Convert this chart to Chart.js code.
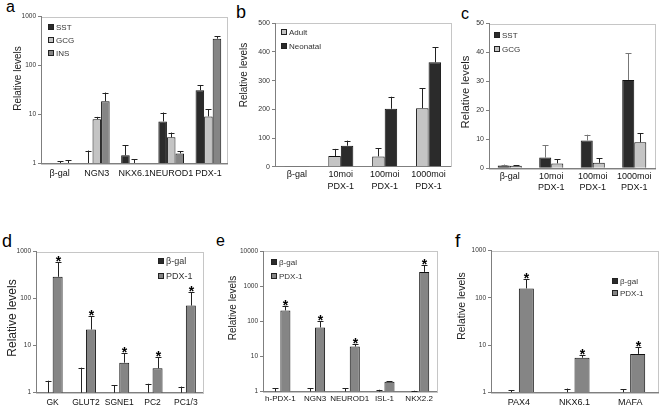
<!DOCTYPE html>
<html>
<head>
<meta charset="utf-8">
<script src="https://cdn.jsdelivr.net/npm/chart.js@4.4.1/dist/chart.umd.min.js"></script>
<style>
  body { margin: 0; background: #fff; width: 661px; height: 408px; position: relative; overflow: hidden; font-family: "Liberation Sans", Arial, sans-serif; }
  canvas { position: absolute; }
  .tag { position: absolute; line-height: 1; color: #000; }
</style>
</head>
<body>
<div class="tag" style="left:6px;top:-1px;font-size:16px">a</div>
<div class="tag" style="left:236px;top:3px;font-size:18px">b</div>
<div class="tag" style="left:461px;top:6px;font-size:16px">c</div>
<div class="tag" style="left:2px;top:232px;font-size:18px">d</div>
<div class="tag" style="left:216px;top:233px;font-size:16px">e</div>
<div class="tag" style="left:455px;top:231px;font-size:19px">f</div>

<canvas id="pa" width="233" height="190" style="left:0px;top:0px"></canvas>
<canvas id="pb" width="226" height="200" style="left:230px;top:0px"></canvas>
<canvas id="pc" width="205" height="200" style="left:456px;top:0px"></canvas>
<canvas id="pd" width="215" height="183" style="left:0px;top:225px"></canvas>
<canvas id="pe" width="228" height="183" style="left:215px;top:225px"></canvas>
<canvas id="pf" width="218" height="183" style="left:443px;top:225px"></canvas>

<script>
// panel a
const aCats = ["β-gal", "NGN3", "NKX6.1", "NEUROD1", "PDX-1"];
const aSST = [1, 1, 1.44, 7.1, 30.9];
const aSSTErr = [0, 0.8, 0.86, 3.7, 8.7];
const aGCG = [1, 7.9, 1, 3.35, 9.0];
const aGCGErr = [0.08, 0.9, 0.19, 0.85, 3.5];
const aINS = [1, 18.4, 1, 1.57, 351];
const aINSErr = [0.15, 9.3, 0, 0.16, 39];

// panel b
const bCats = ["β-gal", ["10moi", "PDX-1"], ["100moi", "PDX-1"], ["1000moi", "PDX-1"]];
const bAdult = [1, 37, 36, 204];
const bAdultErr = [0, 25, 29, 70];
const bNeonatal = [1, 73, 202, 364];
const bNeonatalErr = [0, 18, 42, 53];

// panel c
const cCats = ["β-gal", ["10moi", "PDX-1"], ["100moi", "PDX-1"], ["1000moi", "PDX-1"]];
const cSST = [0.95, 3.7, 9.6, 30.5];
const cSSTErr = [0.35, 4.3, 2.0, 9.3];
const cGCG = [0.9, 1.7, 1.9, 9.0];
const cGCGErr = [0.1, 1.4, 1.6, 3.1];

// panel d
const dCats = ["GK", "GLUT2", "SGNE1", "PC2", "PC1/3"];
const dGal = [1, 1, 1, 1, 1];
const dGalErr = [0.8, 2.4, 0.45, 0.55, 0.35];
const dPDX = [290, 22, 4.35, 3.3, 71];
const dPDXErr = [300, 20, 2.55, 2.3, 65];
const dStars = [true, true, true, true, true];

// panel e
const eCats = ["h-PDX-1", "NGN3", "NEUROD1", "ISL-1", "NKX2.2"];
const eGal = [1, 1, 1, 1, 1];
const eGalErr = [0.23, 0.23, 0.25, 0.12, 0.05];
const ePDX = [203, 66.5, 19, 1.9, 2540];
const ePDXErr = [74, 32, 3.7, 0.05, 1390];
const eStars = [true, true, true, false, true];

// panel f
const fCats = ["PAX4", "NKX6.1", "MAFA"];
const fGal = [1, 1, 1];
const fGalErr = [0.1, 0.2, 0.15];
const fPDX = [159, 5.4, 6.5];
const fPDXErr = [88, 0.7, 2.6];
const fStars = [true, true, true];

const logTicks3 = [1, 10, 100, 1000];
const logTicks4 = [1, 10, 100, 1000, 10000];

const FONT = '"Liberation Sans", Arial, sans-serif';
const AXIS = "#7f7f7f";
const DARK = "#2b2b2b", LIGHT = "#c4c4c4", MID = "#858585";

// plot box + rotated axis title
const frame = {
  id: "frame",
  beforeDraw: (chart, args, opts) => {
    const { ctx, chartArea: a } = chart;
    ctx.save();
    ctx.strokeStyle = "#c6c6c6";
    ctx.lineWidth = 1;
    ctx.strokeRect(Math.round(a.left) + 0.5, Math.round(a.top) + 0.5,
      Math.round(a.right - a.left), Math.round(a.bottom - a.top));
    ctx.translate(opts.tx, opts.ty);
    ctx.rotate(-Math.PI / 2);
    ctx.font = opts.ts + "px " + FONT;
    ctx.fillStyle = "#222";
    ctx.textAlign = "center";
    ctx.textBaseline = "middle";
    ctx.fillText("Relative levels", 0, 0);
    ctx.restore();
  },
};

// upper error bars and asterisks
const errorBars = {
  id: "errorBars",
  afterDatasetsDraw: (chart) => {
    const { ctx } = chart;
    const ys = chart.scales.y;
    chart.data.datasets.forEach((ds, i) => {
      if (!ds.errors) return;
      chart.getDatasetMeta(i).data.forEach((bar, j) => {
        const err = ds.errors[j];
        const top = ys.getPixelForValue(ds.data[j] + err);
        const x = Math.round(bar.x) + 0.5;
        ctx.save();
        ctx.strokeStyle = ds.errorColor || "#222";
        ctx.lineWidth = 1;
        if (err > 0) {
          ctx.beginPath();
          ctx.moveTo(x, bar.y);
          ctx.lineTo(x, top);
          ctx.moveTo(x - 3, Math.round(top) + 0.5);
          ctx.lineTo(x + 3, Math.round(top) + 0.5);
          ctx.stroke();
        }
        if (ds.stars && ds.stars[j]) {
          ctx.fillStyle = "#000";
          ctx.font = "bold 14px " + FONT;
          ctx.textAlign = "center";
          ctx.textBaseline = "alphabetic";
          ctx.fillText("*", x, top + 4);
        }
        ctx.restore();
      });
    });
  },
};

// small square legend inside the plot
const boxLegend = {
  id: "boxLegend",
  afterDraw: (chart, args, opts) => {
    const { ctx, chartArea: a } = chart;
    ctx.save();
    ctx.font = opts.size + "px " + FONT;
    ctx.textBaseline = "middle";
    chart.data.datasets.forEach((ds, i) => {
      const x = Math.round(a.left + opts.x);
      const y = Math.round(a.top + opts.y + i * opts.gap);
      ctx.fillStyle = ds.backgroundColor;
      ctx.fillRect(x, y - 3, 6, 6);
      ctx.strokeStyle = "#222";
      ctx.lineWidth = 1;
      ctx.strokeRect(x + 0.5, y - 2.5, 5, 5);
      ctx.fillStyle = "#333";
      ctx.fillText(ds.label, x + 8, y + 0.5);
    });
    ctx.restore();
  },
};

function bars(label, data, errors, color, catPct, extra) {
  return Object.assign({
    label, data, errors,
    backgroundColor: color,
    borderColor: "#111",
    borderWidth: 1,
    categoryPercentage: catPct,
    barPercentage: 1,
  }, extra || {});
}

function panel(id, labels, datasets, y, p) {
  new Chart(document.getElementById(id), {
    type: "bar",
    data: { labels, datasets },
    options: {
      responsive: false,
      animation: false,
      layout: { padding: { left: 0, top: p.top, right: p.right, bottom: 0 } },
      plugins: {
        legend: { display: false },
        tooltip: { enabled: false },
        frame: { tx: p.tx, ty: p.ty, ts: p.ts },
        boxLegend: p.legend,
      },
      scales: {
        x: {
          grid: { display: false, drawTicks: false },
          border: { color: AXIS },
          ticks: {
            autoSkip: false, maxRotation: 0, minRotation: 0,
            padding: p.xpad, color: "#111",
            font: { family: FONT, size: p.xfs, lineHeight: 1.3 },
          },
          afterFit: (s) => { s.height = p.xh; },
        },
        y: Object.assign({
          grid: { drawOnChartArea: false, tickLength: 3, color: AXIS },
          border: { color: AXIS },
          afterFit: (s) => { s.width = p.yw; },
        }, y),
      },
    },
    plugins: [frame, errorBars, boxLegend],
  });
}

function logAxis(max, list) {
  return {
    type: "logarithmic", min: 1, max,
    afterBuildTicks: (s) => { s.ticks = list.map((v) => ({ value: v })); },
    ticks: { color: "#333", padding: 2, font: { family: FONT, size: 6.5 }, callback: (v) => String(v) },
  };
}

function linAxis(max, step) {
  return {
    type: "linear", min: 0, max,
    ticks: { stepSize: step, color: "#333", padding: 2, font: { family: FONT, size: 7 } },
  };
}

panel("pa", aCats, [
  bars("SST", aSST, aSSTErr, DARK, 0.69),
  bars("GCG", aGCG, aGCGErr, LIGHT, 0.69),
  bars("INS", aINS, aINSErr, MID, 0.69),
], logAxis(1000, logTicks3),
  { top: 16.5, right: 6, yw: 41, xh: 27, xpad: 5, xfs: 9, tx: 18, ty: 78.5, ts: 10,
    legend: { x: 7, y: 10.2, gap: 13.3, size: 8 } });

panel("pb", bCats, [
  bars("Adult", bAdult, bAdultErr, LIGHT, 0.57),
  bars("Neonatal", bNeonatal, bNeonatalErr, DARK, 0.57),
], linAxis(500, 100),
  { top: 23.3, right: 5.5, yw: 45, xh: 33.3, xpad: 2, xfs: 9, tx: 14.3, ty: 75, ts: 10,
    legend: { x: 6, y: 9, gap: 13.7, size: 8 } });

panel("pc", cCats, [
  bars("SST", cSST, cSSTErr, DARK, 0.58, { errorColor: "#777" }),
  bars("GCG", cGCG, cGCGErr, LIGHT, 0.58),
], linAxis(50, 10),
  { top: 23.5, right: 6, yw: 33, xh: 31.7, xpad: 2, xfs: 9, tx: 10, ty: 92, ts: 11.3,
    legend: { x: 5, y: 11.5, gap: 14.3, size: 8 } });

panel("pd", dCats, [
  bars("β-gal", dGal, dGalErr, DARK, 0.6),
  bars("PDX-1", dPDX, dPDXErr, MID, 0.6, { stars: dStars }),
], logAxis(1000, logTicks3),
  { top: 26.5, right: 12.5, yw: 36, xh: 15.3, xpad: 4, xfs: 8.5, tx: 12.7, ty: 93, ts: 12,
    legend: { x: 122, y: 9.2, gap: 15.3, size: 9 } });

panel("pe", eCats, [
  bars("β-gal", eGal, eGalErr, DARK, 0.58),
  bars("PDX-1", ePDX, ePDXErr, MID, 0.58, { stars: eStars }),
], logAxis(10000, logTicks4),
  { top: 26, right: 6.5, yw: 48, xh: 16.5, xpad: 2, xfs: 8, tx: 18, ty: 83, ts: 10,
    legend: { x: 8, y: 11.3, gap: 13.4, size: 8 } });

panel("pf", fCats, [
  bars("β-gal", fGal, fGalErr, DARK, 0.54),
  bars("PDX-1", fPDX, fPDXErr, MID, 0.54, { stars: fStars }),
], logAxis(1000, logTicks3),
  { top: 25.7, right: 3, yw: 48, xh: 15.7, xpad: 4, xfs: 9, tx: 18.7, ty: 81, ts: 10.5,
    legend: { x: 121, y: 30, gap: 12, size: 8 } });
</script>
</body>
</html>
